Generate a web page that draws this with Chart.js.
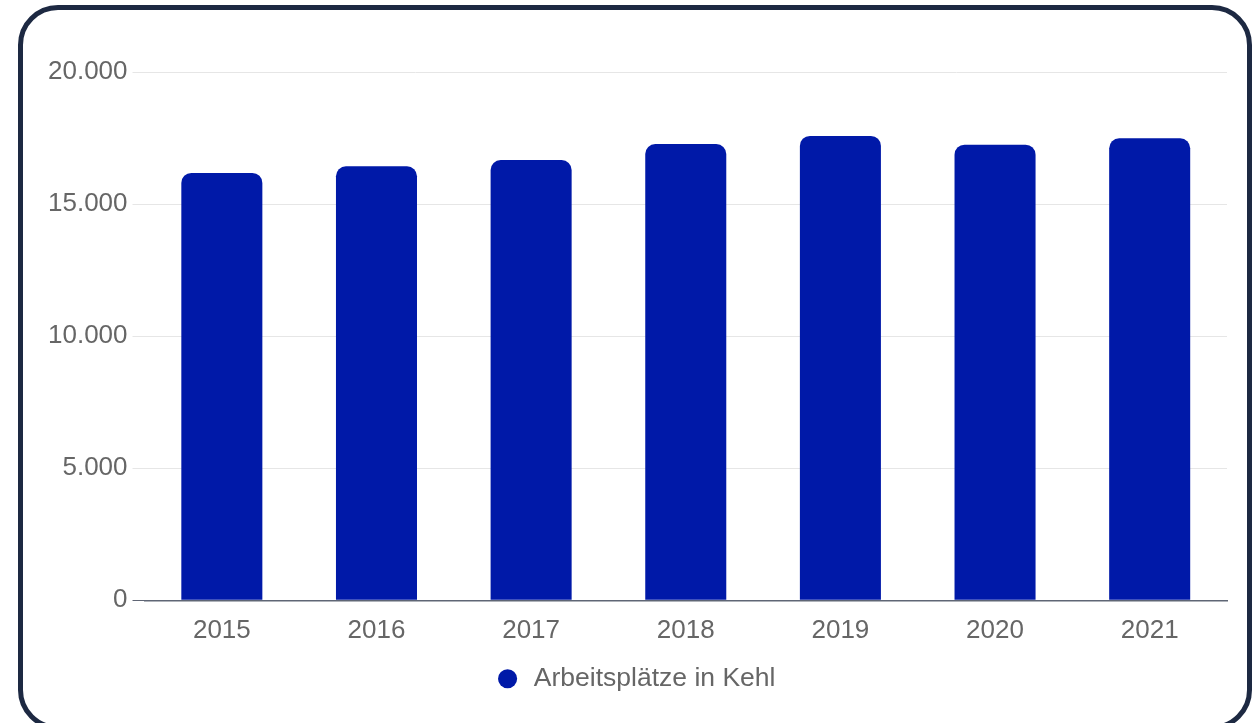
<!DOCTYPE html>
<html lang="de">
<head>
<meta charset="utf-8">
<title>Arbeitsplätze in Kehl</title>
<script src="https://cdn.jsdelivr.net/npm/chart.js@4/dist/chart.umd.min.js"></script>
<style>
  html, body { margin: 0; padding: 0; background: #ffffff; overflow: hidden; }
  body { width: 1259px; height: 723px; position: relative; }
  .frame {
    position: absolute; left: 18px; top: 5px; width: 1234px; height: 725px;
    box-sizing: border-box; border: 5px solid #1d2942; border-radius: 40px;
  }
  #chart { position: absolute; left: 0; top: 0; }
</style>
</head>
<body>
<div class="frame"></div>
<canvas id="chart" width="1259" height="723"></canvas>
<script>
// Beschäftigte am Arbeitsort Kehl, 2015–2021
const years = ['2015', '2016', '2017', '2018', '2019', '2020', '2021'];
const jobs = [16180, 16430, 16670, 17270, 17580, 17250, 17490];
const seriesLabel = 'Arbeitsplätze in Kehl';
const yTicks = [0, 5000, 10000, 15000, 20000];

const barColor = '#0019a8';
const fmt = new Intl.NumberFormat('de-DE');

Chart.defaults.font.family = "'Liberation Sans', Arial, sans-serif";
Chart.defaults.font.size = 26;
Chart.defaults.color = '#666666';

new Chart(document.getElementById('chart'), {
  type: 'bar',
  data: {
    labels: years,
    datasets: [{
      label: seriesLabel,
      data: jobs,
      backgroundColor: barColor,
      borderColor: barColor,
      borderWidth: 0,
      borderRadius: { topLeft: 10, topRight: 10 },
      borderSkipped: 'bottom',
      barPercentage: 0.655,
      categoryPercentage: 0.8
    }]
  },
  options: {
    responsive: false,
    animation: false,
    devicePixelRatio: 1,
    layout: { padding: { left: 43, right: 32, top: 72, bottom: 21 } },
    plugins: {
      legend: {
        position: 'bottom',
        labels: {
          usePointStyle: true,
          pointStyle: 'circle',
          boxWidth: 26,
          boxHeight: 13.5,
          padding: 4,
          color: '#666666',
          font: { size: 26.5 }
        }
      },
      tooltip: { enabled: false }
    },
    scales: {
      x: {
        grid: { display: false, drawTicks: false },
        border: { display: true, color: '#5f6675', width: 1.5 },
        ticks: { padding: 15, color: '#666666', font: { size: 26 } }
      },
      y: {
        min: 0,
        max: 20000,
        afterBuildTicks: (axis) => { axis.ticks = yTicks.map(v => ({ value: v })); },
        grid: {
          color: (ctx) => (ctx.tick && ctx.tick.value === 0) ? '#5f6675' : '#e6e6e6',
          lineWidth: 1,
          tickLength: 12
        },
        border: { display: false },
        ticks: {
          padding: 5,
          color: '#666666',
          font: { size: 26 },
          callback: (v) => fmt.format(v)
        }
      }
    }
  }
});
</script>
</body>
</html>
